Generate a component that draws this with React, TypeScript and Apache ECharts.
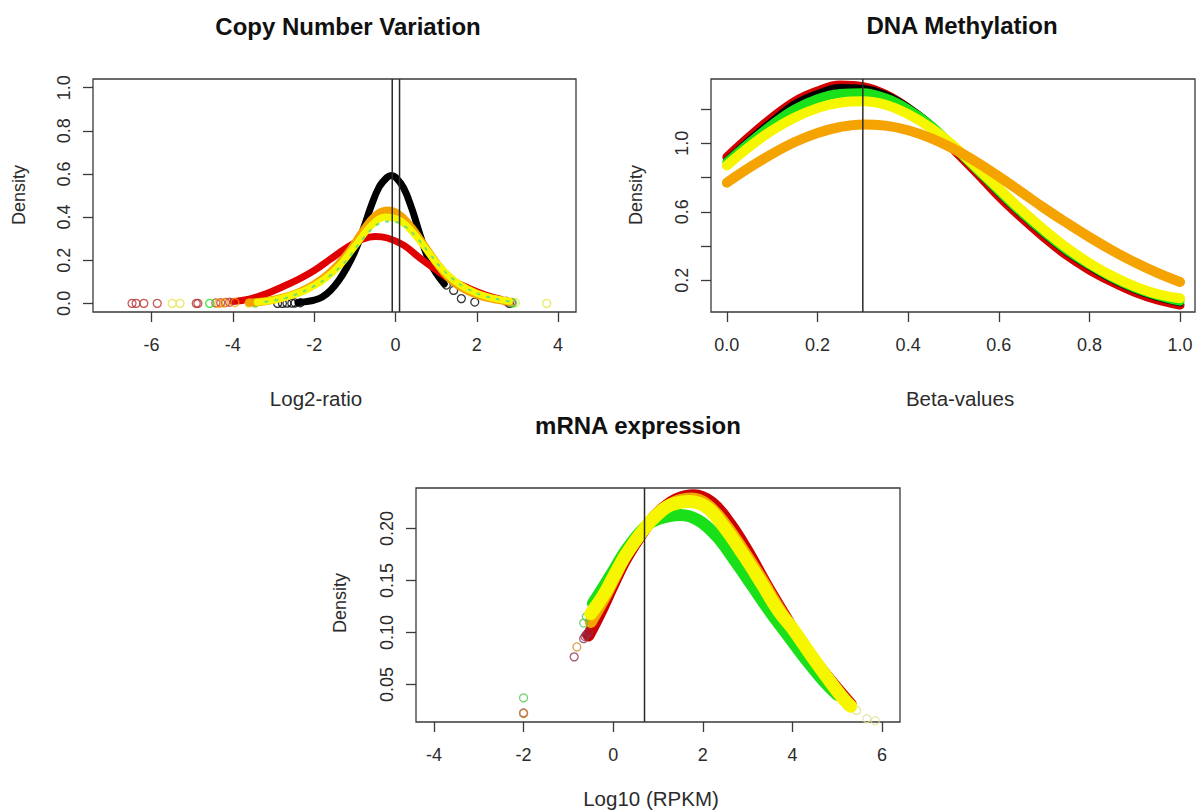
import React, { useEffect, useRef } from "react";
import * as echarts from "echarts";

// ---------- Copy Number Variation (x = log2 ratio, y = density) ----------
const cnvXTicks = [-6, -4, -2, 0, 2, 4];
const cnvYTicks = [0, 0.2, 0.4, 0.6, 0.8, 1.0];
const cnvVLines = [-0.08, 0.1];
const cnvBlackBand = [[-2.4,0.003],[-2.2,0.008],[-2.0,0.015],[-1.8,0.03],[-1.6,0.06],[-1.4,0.105],[-1.2,0.165],[-1.0,0.24],[-0.8,0.34],[-0.6,0.45],[-0.4,0.54],[-0.2,0.585],[-0.1,0.593],[0.0,0.585],[0.2,0.535],[0.4,0.44],[0.6,0.32],[0.8,0.21],[1.0,0.14],[1.2,0.09]];
const cnvBlackDots = [[-2.9,0],[-2.78,0],[-2.67,0.001],[-2.55,0.001],[-2.47,0.002],[-2.34,0.003],[1.25,0.085],[1.43,0.06],[1.62,0.022],[1.95,0.006],[2.8,0.0]];
const cnvRedBand = [[-4.0,0.008],[-3.6,0.02],[-3.2,0.043],[-2.8,0.075],[-2.4,0.11],[-2.0,0.152],[-1.6,0.205],[-1.2,0.258],[-0.8,0.298],[-0.5,0.31],[-0.2,0.303],[0.2,0.27],[0.6,0.21],[1.0,0.155],[1.4,0.105],[1.8,0.07],[2.2,0.04],[2.6,0.018]];
const cnvRedDots = [[-6.48,0],[-6.38,0],[-6.19,0],[-5.86,0],[-4.9,0],[-4.86,0],[-4.42,0.002],[-4.3,0.003],[-4.18,0.004],[-4.08,0.005],[2.72,0.01],[2.85,0.004]];
const cnvOrangeBand = [[-3.6,0.003],[-3.2,0.01],[-2.8,0.025],[-2.4,0.05],[-2.0,0.088],[-1.6,0.145],[-1.2,0.225],[-0.8,0.335],[-0.5,0.405],[-0.2,0.43],[0.1,0.41],[0.4,0.35],[0.7,0.27],[1.0,0.19],[1.3,0.12],[1.6,0.075],[2.0,0.04],[2.4,0.02],[2.8,0.008]];
const cnvOrangeDots = [[-4.35,0.001],[-4.22,0.002],[-3.95,0.004]];
const cnvYellowBand = [[-3.4,0.005],[-3.0,0.015],[-2.6,0.035],[-2.2,0.062],[-1.8,0.105],[-1.4,0.17],[-1.0,0.265],[-0.6,0.36],[-0.25,0.40],[0.1,0.385],[0.4,0.335],[0.7,0.265],[1.0,0.19],[1.3,0.13],[1.6,0.085],[2.0,0.047],[2.4,0.024],[2.8,0.01]];
const cnvYellowDots = [[-5.49,0],[-5.3,0],[-3.6,0.001],[2.95,0.003],[3.72,0]];
const cnvGreenBand = [[-3.2,0.008],[-2.8,0.02],[-2.4,0.045],[-2.0,0.08],[-1.6,0.13],[-1.2,0.2],[-0.8,0.3],[-0.4,0.37],[-0.1,0.38],[0.2,0.36],[0.5,0.31],[0.8,0.24],[1.1,0.17],[1.4,0.115],[1.7,0.075],[2.1,0.04],[2.5,0.02],[2.9,0.005]];
const cnvGreenDots = [[-4.57,0],[-3.45,0.002],[2.88,0.002]];

// ---------- DNA Methylation (x = beta value, y = density) ----------
const dnaXTicks = [0, 0.2, 0.4, 0.6, 0.8, 1.0];
const dnaYTicks = [0.2, 0.4, 0.6, 0.8, 1.0, 1.2];
const dnaYLabels = [0.2, 0.6, 1.0];
const dnaVLines = [0.3];
const dnaBeta = [0,0.05,0.1,0.15,0.2,0.25,0.3,0.35,0.4,0.45,0.5,0.55,0.6,0.65,0.7,0.75,0.8,0.85,0.9,0.95,1.0];
const dnaRed    = [0.92,1.04,1.15,1.245,1.305,1.34,1.33,1.285,1.205,1.10,0.965,0.83,0.69,0.565,0.45,0.345,0.26,0.19,0.13,0.085,0.055];
const dnaBlack  = [0.90,1.02,1.13,1.23,1.29,1.325,1.32,1.285,1.21,1.11,0.975,0.845,0.71,0.585,0.47,0.365,0.28,0.205,0.145,0.10,0.068];
const dnaGreen  = [0.89,1.005,1.11,1.20,1.26,1.29,1.295,1.265,1.20,1.105,0.98,0.85,0.72,0.595,0.48,0.375,0.29,0.215,0.155,0.11,0.078];
const dnaYellow = [0.87,0.98,1.075,1.15,1.205,1.237,1.245,1.225,1.17,1.09,0.985,0.86,0.735,0.61,0.495,0.39,0.30,0.225,0.165,0.12,0.095];
const dnaOrange = [0.77,0.858,0.938,1.007,1.06,1.095,1.11,1.103,1.076,1.03,0.968,0.892,0.806,0.715,0.622,0.535,0.452,0.375,0.305,0.243,0.19];

// ---------- mRNA expression (x = log10 RPKM, y = density) ----------
const mrnaXTicks = [-4, -2, 0, 2, 4, 6];
const mrnaYTicks = [0.05, 0.10, 0.15, 0.20];
const mrnaVLines = [0.699];
const mrnaRedBand = [[-0.55,0.097],[-0.3,0.118],[0.0,0.146],[0.3,0.172],[0.7,0.199],[1.0,0.215],[1.4,0.228],[1.8,0.232],[2.2,0.225],[2.6,0.205],[3.0,0.178],[3.4,0.147],[3.8,0.118],[4.2,0.09],[4.6,0.067],[5.0,0.046],[5.3,0.031]];
const mrnaOrangeBand = [[-0.5,0.11],[-0.2,0.133],[0.0,0.15],[0.3,0.175],[0.7,0.2],[1.0,0.215],[1.4,0.226],[1.75,0.229],[2.1,0.223],[2.5,0.204],[2.9,0.179],[3.3,0.152],[3.7,0.123],[4.1,0.097],[4.5,0.073],[4.9,0.05],[5.2,0.034]];
const mrnaGreenBand = [[-0.45,0.128],[-0.2,0.145],[0.0,0.159],[0.3,0.18],[0.7,0.201],[1.0,0.209],[1.5,0.213],[1.9,0.208],[2.3,0.193],[2.7,0.17],[3.1,0.145],[3.5,0.12],[3.9,0.097],[4.3,0.074],[4.7,0.053],[5.0,0.04]];
const mrnaYellowBand = [[-0.5,0.118],[-0.2,0.137],[0.0,0.153],[0.3,0.176],[0.7,0.2],[1.0,0.214],[1.3,0.223],[1.7,0.226],[2.1,0.22],[2.5,0.2],[2.9,0.175],[3.3,0.148],[3.7,0.12],[4.0,0.104],[4.4,0.079],[4.8,0.055],[5.1,0.038],[5.3,0.029]];
const mrnaGreenDots = [[-0.66,0.109],[-0.6,0.115],[-2.0,0.037]];
const mrnaRedDots = [[-2.0,0.0225],[-0.87,0.0765],[-0.63,0.096],[-0.6,0.098],[-0.66,0.094],[-0.55,0.1]];
const mrnaOrangeDots = [[-2.0,0.022],[-0.81,0.086]];
const mrnaYellowDots = [[5.43,0.025],[5.66,0.017],[5.85,0.015]];
const mrnaBlackDots = [[4.9,0.042],[5.0,0.037],[5.2,0.028]];

const C = {
  black: "#000000",
  red: "#e00000",
  darkred: "#b83030",
  green: "#19e019",
  yellow: "#f6f600",
  orange: "#f5a300",
  mrnaRed: "#cc0000",
  plum: "#8e3050",
};

const FONT = '"Liberation Sans", Arial, sans-serif';

export default function App() {
  const ref = useRef<HTMLDivElement>(null);
  useEffect(() => {
    if (!ref.current) return;
    const chart = echarts.init(ref.current, null, { renderer: "svg" });

    const band = (data: any[], color: string, width: number, gi: number, z = 2, extra: any = {}) => ({
      type: "line",
      xAxisIndex: gi,
      yAxisIndex: gi,
      data,
      smooth: 0.4,
      showSymbol: false,
      symbol: "none",
      silent: true,
      z,
      lineStyle: { color, width, cap: "round", join: "round", ...extra },
    });
    const dots = (data: any[], color: string, gi: number, size = 8, z = 3) => ({
      type: "scatter",
      xAxisIndex: gi,
      yAxisIndex: gi,
      data,
      symbol: "circle",
      symbolSize: size,
      silent: true,
      z,
      itemStyle: { color: "rgba(0,0,0,0)", borderColor: color, borderWidth: 1.3 },
    });
    const vline = (x: number, gi: number, ymin: number, ymax: number) => ({
      type: "line",
      xAxisIndex: gi,
      yAxisIndex: gi,
      data: [[x, ymin], [x, ymax]],
      showSymbol: false,
      symbol: "none",
      silent: true,
      z: 10,
      lineStyle: { color: "#2a2a2a", width: 1.5 },
    });
    const pairs = (xs: number[], ys: number[]) => xs.map((x, i) => [x, ys[i]]);

    const xAxisBase = (gi: number, min: number, max: number, ticks: number[], fmt: (v: number) => string) => ({
      type: "value",
      gridIndex: gi,
      min,
      max,
      position: "bottom",
      axisLine: { show: false, onZero: false },
      splitLine: { show: false },
      axisTick: { show: true, length: 10, customValues: ticks, lineStyle: { color: "#3a3a3a", width: 1.3 } },
      axisLabel: { customValues: ticks, formatter: fmt, margin: 24, fontSize: 18, color: "#2b2b2b", fontFamily: FONT },
    });
    const yAxisBase = (gi: number, min: number, max: number, ticks: number[], labels: number[], fmt: (v: number) => string) => ({
      type: "value",
      gridIndex: gi,
      min,
      max,
      position: "left",
      axisLine: { show: false, onZero: false },
      splitLine: { show: false },
      axisTick: { show: true, length: 10, customValues: ticks, lineStyle: { color: "#3a3a3a", width: 1.3 } },
      axisLabel: { customValues: labels, formatter: fmt, rotate: 90, margin: 20, fontSize: 18, color: "#2b2b2b", fontFamily: FONT },
    });

    const gridBase = { show: true, borderColor: "#3a3a3a", borderWidth: 1.3, backgroundColor: "transparent", containLabel: false };

    const txt = (text: string, x: number, y: number, size: number, bold = false, rot = 0) => ({
      type: "text",
      x,
      y,
      rotation: rot,
      silent: true,
      style: {
        text,
        fill: bold ? "#111" : "#2b2b2b",
        font: `${bold ? "bold " : ""}${size}px ${FONT}`,
        align: "center",
        verticalAlign: "middle",
      },
    });

    const option: any = {
      animation: false,
      backgroundColor: "#ffffff",
      grid: [
        { ...gridBase, left: 93, top: 79, width: 483, height: 233 },
        { ...gridBase, left: 711, top: 79, width: 484, height: 233 },
        { ...gridBase, left: 416, top: 488, width: 484, height: 234 },
      ],
      xAxis: [
        xAxisBase(0, -7.44, 4.44, cnvXTicks, (v) => String(v)),
        xAxisBase(1, -0.035, 1.033, dnaXTicks, (v) => v.toFixed(1)),
        xAxisBase(2, -4.4, 6.4, mrnaXTicks, (v) => String(v)),
      ],
      yAxis: [
        yAxisBase(0, -0.04, 1.04, cnvYTicks, cnvYTicks, (v) => v.toFixed(1)),
        yAxisBase(1, 0.015, 1.375, dnaYTicks, dnaYLabels, (v) => v.toFixed(1)),
        yAxisBase(2, 0.0138, 0.239, mrnaYTicks, mrnaYTicks, (v) => v.toFixed(2)),
      ],
      graphic: [
        txt("Copy Number Variation", 348, 26, 24, true),
        txt("DNA Methylation", 962, 25, 24, true),
        txt("mRNA expression", 638, 425, 24, true),
        txt("Log2-ratio", 316, 398, 20.5),
        txt("Beta-values", 960, 398, 20.5),
        txt("Log10 (RPKM)", 651, 798, 20.5),
        txt("Density", 19, 195, 18, false, Math.PI / 2),
        txt("Density", 636, 195, 18, false, Math.PI / 2),
        txt("Density", 340, 603, 18, false, Math.PI / 2),
      ],
      series: [
        // CNV
        band(cnvBlackBand, C.black, 7, 0, 2),
        dots(cnvBlackDots, C.black, 0),
        band(cnvRedBand, C.red, 7, 0, 3),
        dots(cnvRedDots, C.darkred, 0),
        band(cnvOrangeBand, C.orange, 8, 0, 4),
        dots(cnvOrangeDots, C.orange, 0),
        band(cnvYellowBand, C.yellow, 7, 0, 5),
        dots(cnvYellowDots, "#e6e640", 0),
        band(cnvGreenBand, "#6ee06e", 2, 0, 6, { type: [2, 8] }),
        dots(cnvGreenDots, C.green, 0),
        ...cnvVLines.map((x) => vline(x, 0, -0.04, 1.04)),
        // DNA methylation
        band(pairs(dnaBeta, dnaRed), "#d40000", 9, 1, 2),
        band(pairs(dnaBeta, dnaBlack), C.black, 7, 1, 3),
        band(pairs(dnaBeta, dnaGreen), C.green, 9, 1, 4),
        band(pairs(dnaBeta, dnaYellow), C.yellow, 10, 1, 5),
        band(pairs(dnaBeta, dnaOrange), C.orange, 10, 1, 6),
        ...dnaVLines.map((x) => vline(x, 1, 0.015, 1.375)),
        // mRNA
        band(mrnaRedBand, C.mrnaRed, 12, 2, 2),
        band(mrnaOrangeBand, C.orange, 12, 2, 3),
        band(mrnaGreenBand, C.green, 12, 2, 4),
        band(mrnaYellowBand, C.yellow, 13, 2, 5),
        dots(mrnaGreenDots, "#4cc94c", 2),
        dots(mrnaRedDots, C.plum, 2),
        dots(mrnaOrangeDots, "#d08a20", 2),
        dots(mrnaYellowDots, "#e0e090", 2),
        dots(mrnaBlackDots, "#222", 2, 4),
        ...mrnaVLines.map((x) => vline(x, 2, 0.0138, 0.239)),
      ],
    };
    chart.setOption(option);
    return () => chart.dispose();
  }, []);
  return (
    <div
      ref={ref}
      style={{ position: "absolute", left: 0, top: 0, width: 1200, height: 812, background: "#fff" }}
    />
  );
}
